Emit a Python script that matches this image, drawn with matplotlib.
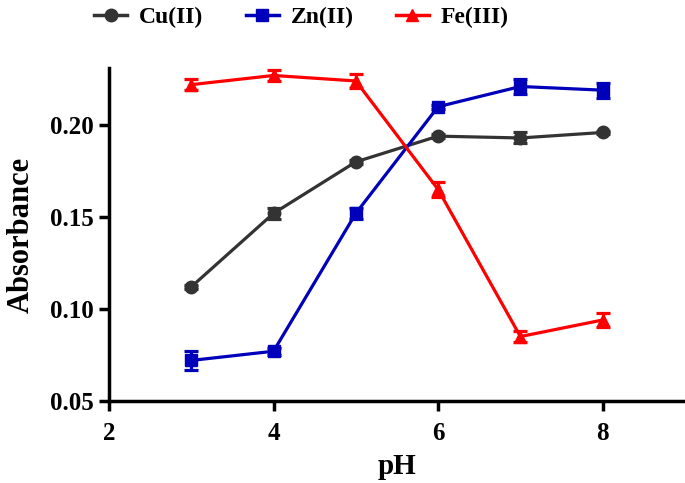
import numpy as np
import matplotlib
matplotlib.use('Agg')
import matplotlib.pyplot as plt
from matplotlib.lines import Line2D

# data
ph = [3, 4, 5, 6, 7, 8]
cu = [0.112, 0.152, 0.180, 0.194, 0.193, 0.196]
cu_err = [0.001, 0.003, 0.001, 0.001, 0.003, 0.001]
zn = [0.072, 0.077, 0.152, 0.210, 0.221, 0.219]
zn_err = [0.005, 0.002, 0.003, 0.001, 0.004, 0.004]
fe = [0.222, 0.227, 0.224, 0.165, 0.085, 0.094]
fe_err = [0.003, 0.003, 0.004, 0.004, 0.003, 0.004]

plt.rcParams['font.family'] = ['Liberation Serif', 'DejaVu Serif']
plt.rcParams['font.weight'] = 'bold'

fig = plt.figure(figsize=(6.85, 4.83), dpi=100)
ax = fig.add_axes([0.159, 0.170, 0.841, 0.689])

series = [(cu, cu_err, '#333333', 'o', 'Cu(II)'),
          (zn, zn_err, '#0000bb', 's', 'Zn(II)'),
          (fe, fe_err, '#ff0000', '^', 'Fe(III)')]
handles = []
for y, e, c, m, lab in series:
    ax.errorbar(ph, y, yerr=e, color=c, marker=m, ms=9, lw=2.3,
                capsize=5, capthick=2.3, elinewidth=2.3)
    handles.append(Line2D([], [], color=c, marker=m, ms=9, lw=2.5, label=lab))

ax.set_xlim(2, 9)
ax.set_ylim(0.05, 0.231)
ax.set_xticks([2, 4, 6, 8])
ax.set_yticks([0.05, 0.10, 0.15, 0.20])
ax.set_yticklabels(['0.05', '0.10', '0.15', '0.20'])
for s in ['top', 'right']:
    ax.spines[s].set_visible(False)
for s in ['left', 'bottom']:
    ax.spines[s].set_linewidth(2.5)
ax.tick_params(width=2.5, length=7, labelsize=18)
ax.tick_params(axis='x', pad=8)
ax.tick_params(axis='y', pad=4)
for t in ax.get_xticklabels() + ax.get_yticklabels():
    t.set_fontweight('bold')
ax.set_xlabel('pH', fontsize=21, fontweight='bold', labelpad=6)
ax.set_ylabel('Absorbance', fontsize=22, fontweight='bold', labelpad=10)

fig.legend(handles=handles, loc='upper center', bbox_to_anchor=(0.44, 1.03),
           ncol=3, frameon=False, fontsize=17, columnspacing=1.8,
           handlelength=1.4, handletextpad=0.5)

plt.savefig('out.png', dpi=100)
